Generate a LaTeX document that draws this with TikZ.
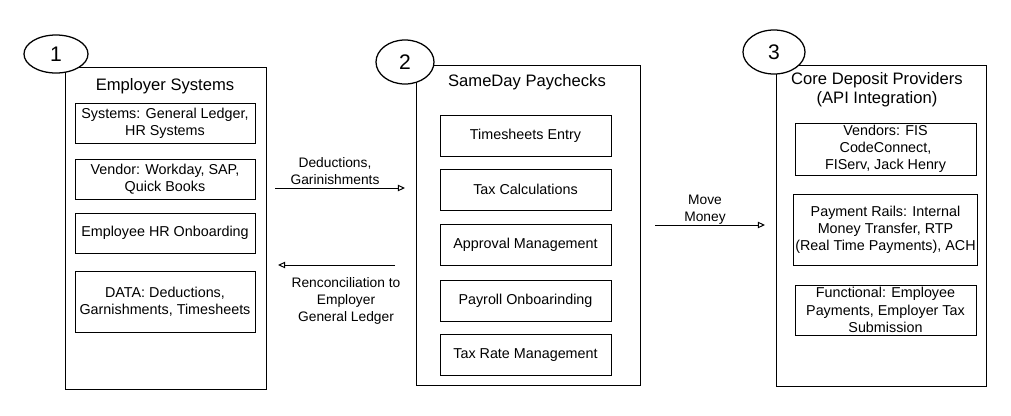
\documentclass[tikz,border=0pt]{standalone}
\usepackage{fontspec}
\setmainfont{Liberation Sans}
\usetikzlibrary{arrows.meta,shapes.geometric,fit}

\tikzset{
    panel/.style={draw, line width=.6pt, inner sep=0pt},
    itembox/.style={draw, line width=.6pt, align=center, inner sep=1pt, font=\fontsize{10.2}{12.2}\selectfont},
    stepnum/.style={draw, ellipse, line width=.9pt, fill=white, inner sep=0pt, font=\fontsize{15}{15}\selectfont},
    flow/.style={line width=.7pt, -{Triangle[open,length=5pt,width=4.5pt]}},
    flowtext/.style={align=center, font=\fontsize{9.8}{12}\selectfont},
    paneltitle/.style={align=center, font=\fontsize{11.8}{13.5}\selectfont},
}

\begin{document}
\begin{tikzpicture}[x=0.025cm, y=-0.025cm]
\useasboundingbox (0,0) rectangle (1011,415);

% three panels
\node[panel, fit={(65,67) (266,389)}] (p1) {};
\node[panel, fit={(416,65) (640,385)}] (p2) {};
\node[panel, fit={(776,65) (986,386)}] (p3) {};

\node[paneltitle] (t1) at (165,86) {Employer Systems};
\node[paneltitle] (t2) at (527,82) {SameDay Paychecks};
\node[paneltitle] (t3) at (877,90) {Core Deposit Providers\\(API Integration)};

% employer systems
\foreach \y/\h/\xtext [count=\i] in {123/1/{Systems: General Ledger,\\HR Systems},
    179/1/{Vendor: Workday, SAP,\\Quick Books},
    233/1/{Employee HR Onboarding},
    301.5/1.525/{DATA: Deductions,\\Garnishments, Timesheets}}
{
    \node[itembox, minimum width=4.5cm, minimum height=\h cm] (e\i) at (165,\y) {\xtext};
}

% sameday paychecks
\foreach \y/\xtext [count=\i] in {135.5/Timesheets Entry,189.5/Tax Calculations,
    244.5/Approval Management,300.5/Payroll Onboarinding,355/Tax Rate Management}
{
    \node[itembox, minimum width=4.275cm, minimum height=1.025cm] (s\i) at (525.5,\y) {\xtext};
}

% core deposit providers
\foreach \y/\h/\xtext [count=\i] in {149/1.3/{Vendors:  FIS\\CodeConnect,\\FIServ, Jack Henry},
    229.5/1.775/{Payment Rails:  Internal\\Money Transfer, RTP\\(Real Time Payments), ACH},
    310/1.25/{Functional:  Employee\\Payments, Employer Tax\\Submission}}
{
    \node[itembox, minimum width=4.525cm, minimum height=\h cm] (d\i) at (885.5,\y) {\xtext};
}

% step numbers
\node[stepnum, minimum width=1.6cm, minimum height=.95cm] (n1) at (56,54) {1};
\node[stepnum, minimum width=1.45cm, minimum height=1.1cm] (n2) at (405,62) {2};
\node[stepnum, minimum width=1.55cm, minimum height=1.1cm] (n3) at (774,52) {3};

% flows
\coordinate (a1s) at (275,188);
\coordinate (a1e) at (405,188);
\coordinate (a2s) at (395,265);
\coordinate (a2e) at (278,265);
\coordinate (a3s) at (655,225);
\coordinate (a3e) at (765,225);

\draw[flow] (a1s) -- (a1e);
\draw[flow] (a2s) -- (a2e);
\draw[flow] (a3s) -- (a3e);

\node[flowtext] (l1) at (335,171) {Deductions,\\Garinishments};
\node[flowtext] (l2) at (346,301) {Renconciliation to\\Employer\\General Ledger};
\node[flowtext] (l3) at (705,210) {Move\\Money};
\end{tikzpicture}
\end{document}
